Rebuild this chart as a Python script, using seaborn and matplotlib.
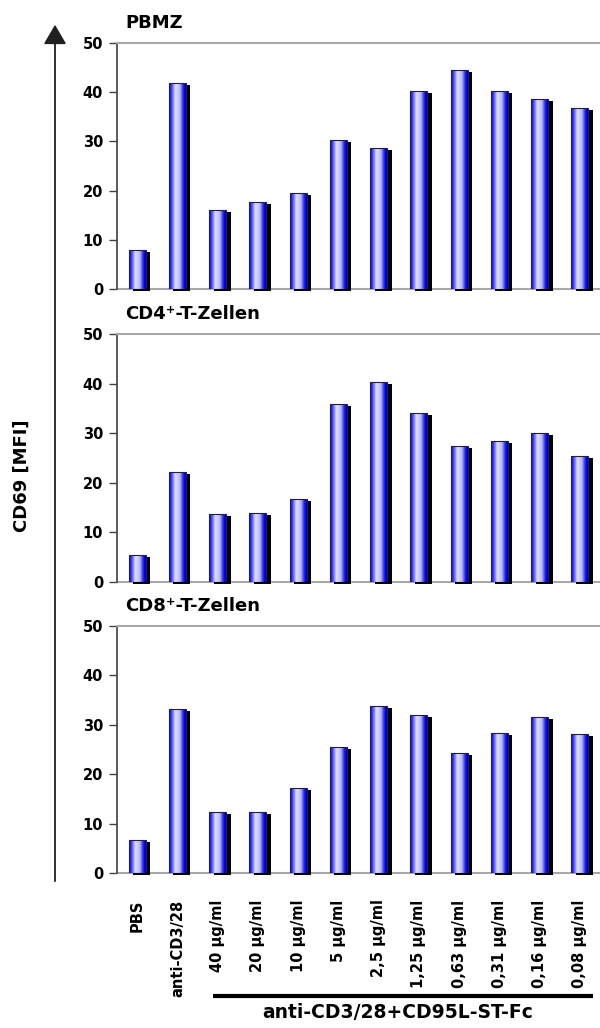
import numpy as np
import pandas as pd
import matplotlib
matplotlib.use("Agg")
import matplotlib.pyplot as plt
import seaborn as sns
from matplotlib.colors import LinearSegmentedColormap
from matplotlib.patches import Rectangle, FancyArrowPatch
import matplotlib.transforms as mtransforms

# ---------------- data ----------------
categories = ["PBS", "anti-CD3/28", "40 µg/ml", "20 µg/ml", "10 µg/ml", "5 µg/ml",
              "2,5 µg/ml", "1,25 µg/ml", "0,63 µg/ml", "0,31 µg/ml", "0,16 µg/ml", "0,08 µg/ml"]
pbmz = [8.0, 41.8, 16.1, 17.7, 19.6, 30.2, 28.7, 40.3, 44.6, 40.3, 38.7, 36.7]
cd4 = [5.5, 22.1, 13.7, 14.0, 16.7, 35.8, 40.4, 34.0, 27.4, 28.5, 30.0, 25.5]
cd8 = [6.6, 33.1, 12.4, 12.4, 17.3, 25.6, 33.8, 32.0, 24.3, 28.3, 31.6, 28.1]
panel_titles = ["PBMZ", "CD4⁺-T-Zellen", "CD8⁺-T-Zellen"]
y_ticks = [0, 10, 20, 30, 40, 50]
y_label = "CD69 [MFI]"
group_label = "anti-CD3/28+CD95L-ST-Fc"

# ---------------- style ----------------
sns.set_style("white")
plt.rcParams['font.family'] = ['DejaVu Sans']
plt.rcParams['font.weight'] = 'bold'
plt.rcParams['text.color'] = 'black'
plt.rcParams['xtick.color'] = 'black'
plt.rcParams['ytick.color'] = 'black'
plt.rcParams['xtick.labelcolor'] = 'black'
plt.rcParams['ytick.labelcolor'] = 'black'

W, H = 600, 1028
fig = plt.figure(figsize=(W / 100, H / 100), dpi=100)

grad_cmap = LinearSegmentedColormap.from_list("bar", [
    (0.0, '#0808b0'), (0.1, '#2828ff'), (0.22, '#7070ff'), (0.34, '#d0d0ff'),
    (0.4, '#e0e0ff'), (0.5, '#ccccff'), (0.65, '#b8b8ff'), (0.78, '#5050ff'),
    (0.9, '#0808f0'), (1.0, '#0000a0')])
grad = np.linspace(0, 1, 64).reshape(1, -1)

panels = [(43, 289, pbmz), (334, 582, cd4), (626, 873, cd8)]
left_px, right_px = 117, 600
axes = []
for i, (top, bot, vals) in enumerate(panels):
    ax = fig.add_axes([left_px / W, 1 - bot / H, (right_px - left_px) / W, (bot - top) / H])
    axes.append(ax)
    df = pd.DataFrame({"cat": categories, "val": vals})
    sns.barplot(data=df, x="cat", y="val", ax=ax, width=0.42, color="#8080ff",
                saturation=1, edgecolor="#202040", linewidth=0.8, zorder=3)
    shadow_tr = ax.transData + mtransforms.ScaledTranslation(4.5 / 100, -2 / 100, fig.dpi_scale_trans)
    for p in list(ax.patches):
        x0, w, h = p.get_x(), p.get_width(), p.get_height()
        sh = Rectangle((x0, 0), w, h, transform=shadow_tr, facecolor='black',
                       edgecolor='none', zorder=2, clip_on=False)
        ax.add_artist(sh)
        im = ax.imshow(grad, cmap=grad_cmap, extent=(x0, x0 + w, 0, h), aspect='auto',
                       zorder=3.5, interpolation='bilinear')
        im.set_clip_path(p)
        p.set_facecolor('none')
        p.set_zorder(4)
    ax.set_xlim(-0.5, len(categories) - 0.5)
    ax.set_ylim(0, 50)
    ax.set_yticks(y_ticks)
    ax.set_xlabel("")
    ax.set_ylabel("")
    for s in ['top', 'bottom']:
        ax.spines[s].set_color('#a8a8a8')
        ax.spines[s].set_linewidth(1.5)
    ax.spines['bottom'].set_zorder(1)
    ax.spines['right'].set_visible(False)
    ax.spines['left'].set_color('#404040')
    ax.spines['left'].set_linewidth(1.2)
    ax.tick_params(axis='y', direction='out', length=6, width=1, color='#404040',
                   pad=4, labelsize=10.5, left=True, labelcolor='black')
    ax.annotate(panel_titles[i], xy=(0, 1), xycoords='axes fraction', xytext=(8, 11),
                textcoords='offset pixels', ha='left', va='bottom', fontsize=13,
                fontweight='bold', color='black')
    if i < 2:
        ax.tick_params(axis='x', bottom=False, labelbottom=False)
    else:
        ax.tick_params(axis='x', length=0, pad=19, labelsize=10.5, labelcolor='black')
        for lbl in ax.get_xticklabels():
            lbl.set_rotation(90)
            lbl.set_fontweight('bold')

# y label and arrow
fig.text(22 / W, 1 - 476 / H, y_label, rotation=90, ha='center', va='center',
         fontsize=13, fontweight='bold', color='black')
arrow = FancyArrowPatch((55 / W, 1 - 884 / H), (55 / W, 1 - 22 / H), transform=fig.transFigure,
                        arrowstyle='-|>,head_length=0.6,head_width=0.35', mutation_scale=20,
                        color='#202020', lw=1.3)
fig.add_artist(arrow)

# group bracket
ax3 = axes[2]
tr = mtransforms.blended_transform_factory(ax3.transData, fig.transFigure)
ax3.plot([1.88, 11.33], [1 - 996 / H, 1 - 996 / H], transform=tr, color='black', lw=3,
         clip_on=False, solid_capstyle='butt')
fig.text(398 / W, 1 - 1013 / H, group_label, ha='center', va='center', fontsize=13.5,
         fontweight='bold', color='black')

fig.savefig("out.png", dpi=100)
